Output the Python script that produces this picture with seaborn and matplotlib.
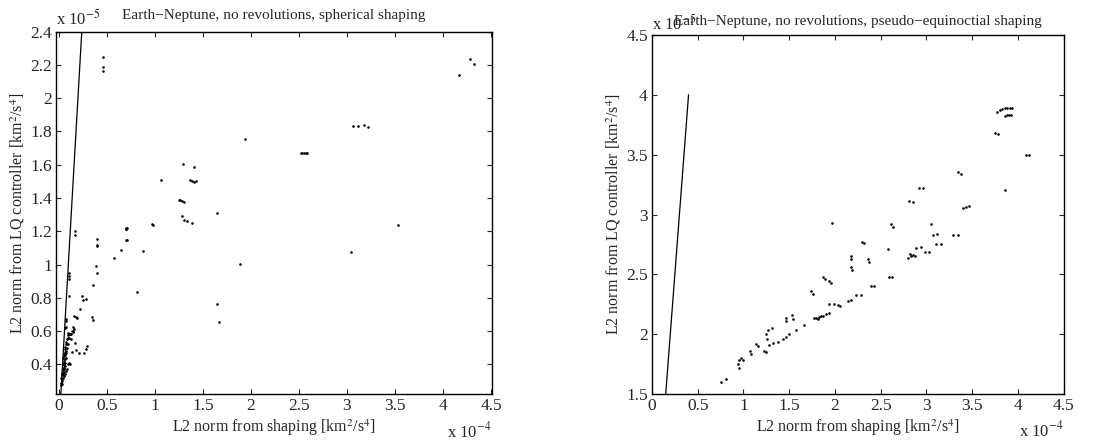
import matplotlib
matplotlib.use("Agg")
import matplotlib.pyplot as plt
import seaborn as sns
import numpy as np
import pandas as pd
from matplotlib.ticker import FuncFormatter

# values are stored scaled: x in units of 1e-4, y in units of 1e-5
# Earth-Neptune, spherical shaping
sph_x = [0.465, 0.465, 0.465, 4.167, 4.278, 4.326, 1.944,
         3.066, 3.118, 3.177, 3.215,
         2.517, 2.535, 2.552, 2.570, 2.587,
         1.292, 1.410, 1.062, 1.370, 1.390, 1.410, 1.430,
         1.250, 1.260, 1.280, 1.300, 1.646,
         1.284, 1.300, 1.340, 1.390, 3.535,
         0.700, 0.705, 0.972, 0.983,
         0.168, 0.168, 0.403, 0.403, 0.403,
         0.700, 0.712, 0.698, 0.710, 0.645, 0.877, 0.574,
         0.390, 0.400, 0.355, 1.882, 3.045, 0.816, 1.645, 1.668,
         0.240, 0.250, 0.284, 0.226, 0.345, 0.355,
         0.160, 0.175, 0.190, 0.150, 0.160,
         0.297, 0.287, 0.210, 0.258, 0.184, 0.139, 0.165,
         0.100, 0.115, 0.130, 0.140, 0.105, 0.125, 0.100, 0.145, 0.150, 0.120,
         0.074, 0.080, 0.103, 0.103, 0.103, 0.103,
         0.020, 0.025, 0.030, 0.035, 0.028, 0.040, 0.033, 0.045, 0.038, 0.050,
         0.042, 0.055, 0.047, 0.060, 0.065, 0.050, 0.045, 0.058, 0.070, 0.052,
         0.062, 0.048, 0.075, 0.055, 0.068, 0.058, 0.080, 0.062, 0.072, 0.065,
         0.085, 0.070, 0.078, 0.090, 0.075, 0.085, 0.095, 0.090, 0.080, 0.100,
         0.105, 0.070, 0.035, 0.060, 0.065, 0.070, 0.075, 0.110, 0.120, 0.095]
sph_y = [2.250, 2.190, 2.166, 2.138, 2.238, 2.206, 1.754,
         1.832, 1.832, 1.840, 1.828,
         1.668, 1.668, 1.668, 1.668, 1.668,
         1.606, 1.584, 1.506, 1.510, 1.500, 1.495, 1.505,
         1.390, 1.385, 1.380, 1.378, 1.308,
         1.294, 1.270, 1.264, 1.252, 1.236,
         1.214, 1.218, 1.246, 1.240,
         1.200, 1.180, 1.155, 1.120, 1.110,
         1.146, 1.146, 1.212, 1.218, 1.087, 1.080, 1.040,
         0.990, 0.950, 0.875, 1.004, 1.076, 0.832, 0.764, 0.655,
         0.812, 0.784, 0.794, 0.735, 0.683, 0.667,
         0.690, 0.685, 0.680, 0.625, 0.615,
         0.510, 0.495, 0.470, 0.470, 0.485, 0.475, 0.530,
         0.590, 0.580, 0.585, 0.600, 0.560, 0.550, 0.525, 0.595, 0.600, 0.400,
         0.670, 0.625, 0.950, 0.930, 0.915, 0.810,
         0.275, 0.290, 0.300, 0.310, 0.320, 0.320, 0.335, 0.340, 0.350, 0.355,
         0.365, 0.370, 0.380, 0.380, 0.390, 0.395, 0.400, 0.410, 0.410, 0.420,
         0.430, 0.440, 0.440, 0.450, 0.455, 0.465, 0.470, 0.475, 0.480, 0.490,
         0.500, 0.505, 0.520, 0.520, 0.535, 0.550, 0.560, 0.370, 0.360, 0.400,
         0.410, 0.340, 0.280, 0.330, 0.460, 0.620, 0.660, 0.580, 0.585, 0.575]

# Earth-Neptune, pseudo-equinoctial shaping
peq_x = [3.770, 3.800, 3.824, 3.854, 3.881, 3.910, 3.940,
         3.860, 3.881, 3.907, 3.929,
         3.745, 3.780, 4.090, 4.120, 3.860, 3.340, 3.380,
         3.400, 3.430, 3.470, 2.920, 2.960, 2.810, 2.850,
         1.970, 2.610, 2.630, 3.050,
         3.070, 3.120, 3.290, 3.340, 3.105, 3.160, 2.980, 3.030,
         2.886, 2.940, 2.800, 2.830, 2.850, 2.820, 2.870,
         2.580, 2.296, 2.320, 2.360, 2.370, 2.176, 2.180, 2.176, 2.187,
         2.595, 2.620, 2.390, 2.430, 2.230, 2.285, 2.140, 2.175,
         1.940, 1.990, 2.030, 2.050,
         1.866, 1.895, 1.940, 1.960, 1.740, 1.756,
         1.775, 1.790, 1.830, 1.866, 1.900, 1.940, 1.810, 1.850,
         1.665, 1.574, 1.500, 1.465, 1.430, 1.374, 1.320, 1.283, 1.228, 1.250,
         1.460, 1.465, 1.530, 1.540, 1.312, 1.246, 1.253, 1.270,
         1.137, 1.155, 1.075, 1.086, 0.948, 0.973, 0.999, 0.937, 0.948,
         0.754, 0.810]
peq_y = [3.856, 3.870, 3.880, 3.885, 3.888, 3.890, 3.890,
         3.826, 3.830, 3.833, 3.833,
         3.680, 3.670, 3.500, 3.500, 3.207, 3.354, 3.340,
         3.058, 3.063, 3.069, 3.220, 3.218, 3.113, 3.108,
         2.930, 2.917, 2.900, 2.920,
         2.830, 2.840, 2.825, 2.828, 2.755, 2.750, 2.690, 2.690,
         2.720, 2.728, 2.640, 2.650, 2.660, 2.670, 2.655,
         2.714, 2.770, 2.764, 2.630, 2.600, 2.653, 2.630, 2.560, 2.540,
         2.478, 2.478, 2.403, 2.403, 2.330, 2.330, 2.278, 2.283,
         2.256, 2.250, 2.244, 2.236,
         2.480, 2.458, 2.444, 2.430, 2.360, 2.340,
         2.140, 2.140, 2.144, 2.153, 2.167, 2.180, 2.130, 2.150,
         2.075, 2.036, 2.000, 1.980, 1.960, 1.940, 1.925, 1.908, 1.860, 1.855,
         2.140, 2.110, 2.158, 2.125, 2.056, 2.000, 1.964, 2.040,
         1.920, 1.900, 1.860, 1.833, 1.790, 1.805, 1.790, 1.750, 1.722,
         1.603, 1.630]

# reference line y = x, actual units
ref_line = [0.0, 4e-5]

titles = ["Earth\u2212Neptune, no revolutions, spherical shaping",
          "Earth\u2212Neptune, no revolutions, pseudo\u2212equinoctial shaping"]
xlab = "L2 norm from shaping [km$^2$/s$^4$]"
ylab = "L2 norm from LQ controller [km$^2$/s$^4$]"

sns.set_style("ticks")
plt.rcParams['font.family'] = ['Liberation Serif', 'DejaVu Serif']
plt.rcParams['mathtext.fontset'] = 'stix'
plt.rcParams['font.size'] = 12
plt.rcParams['xtick.direction'] = 'in'
plt.rcParams['ytick.direction'] = 'in'

fig = plt.figure(figsize=(11.16, 4.46), dpi=100)
ax1 = fig.add_axes([0.0502, 0.116, 0.3907, 0.813])
ax2 = fig.add_axes([0.5842, 0.116, 0.3689, 0.806])

fmt = FuncFormatter(lambda v, p: "%g" % round(v, 6))
line_df = pd.DataFrame({"x": np.array(ref_line) / 1e-4, "y": np.array(ref_line) / 1e-5})

panels = [(ax1, sph_x, sph_y, (-0.028, 4.51), (0.22, 2.4), np.arange(0.4, 2.41, 0.2), 9, 1.018),
          (ax2, peq_x, peq_y, (0.0, 4.5), (1.5, 4.5), np.arange(1.5, 4.51, 0.5), 7, 1.014)]

for i, (ax, xs, ys, xl, yl, yt, tpad, oy) in enumerate(panels):
    df = pd.DataFrame({"x": xs, "y": ys})
    sns.scatterplot(data=df, x="x", y="y", ax=ax, color="black", s=3.5,
                    linewidth=0, marker="o")
    sns.lineplot(data=line_df, x="x", y="y", ax=ax, color="black",
                 linewidth=0.9, sort=False)
    ax.set_xlim(*xl)
    ax.set_ylim(*yl)
    ax.set_xticks(np.arange(0, 4.51, 0.5))
    ax.set_yticks(yt)
    ax.xaxis.set_major_formatter(fmt)
    ax.yaxis.set_major_formatter(fmt)
    ax.tick_params(top=True, right=True, length=3.5, width=0.8, labelsize=12.5, pad=3)
    for sp in ax.spines.values():
        sp.set_linewidth(1.0)
        sp.set_color("black")
    ax.set_title(titles[i], fontsize=11, pad=tpad)
    ax.set_xlabel(xlab, fontsize=11.5, labelpad=2)
    ax.set_ylabel(ylab, fontsize=11.5, labelpad=2)
    ax.text(0.0, oy, "x 10$^{-5}$", transform=ax.transAxes, ha="left",
            va="baseline", fontsize=12)
    ax.text(1.0, -0.118, "x 10$^{-4}$", transform=ax.transAxes, ha="right",
            va="baseline", fontsize=12)

fig.savefig("out.png", dpi=100)
